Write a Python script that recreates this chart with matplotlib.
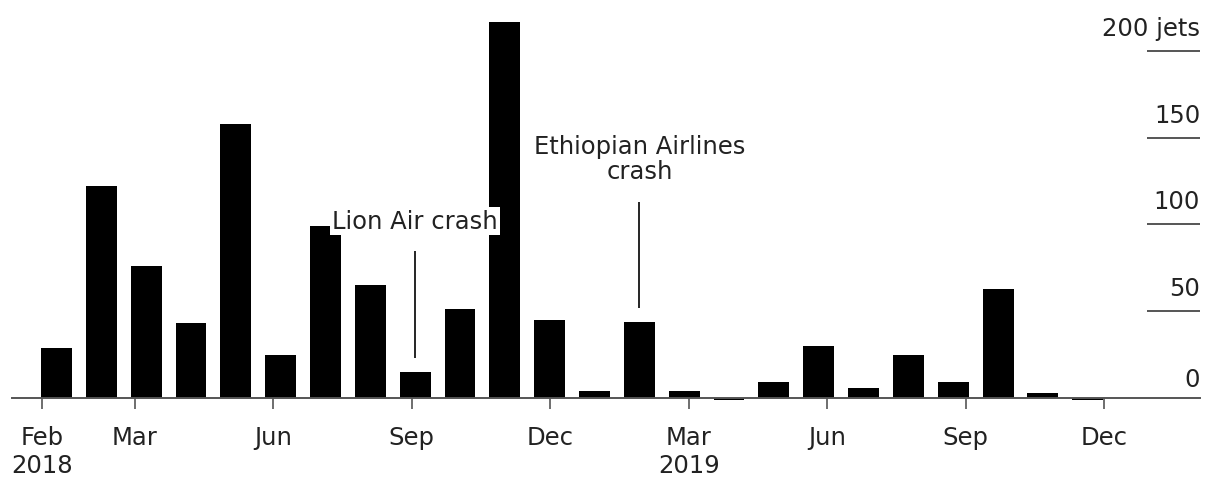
import matplotlib.pyplot as plt

# monthly jet counts, Feb 2018 onwards
jets = [29, 122, 76, 43, 158, 25, 99, 65, 15, 51, 217, 45,
        4, 44, 4, -1, 9, 30, 6, 25, 9, 63, 3, -1]

tick_months = [0, 2, 5, 8, 11, 14, 17, 20, 23]
tick_labels = ["Feb\n2018", "Mar", "Jun", "Sep", "Dec",
               "Mar\n2019", "Jun", "Sep", "Dec"]

y_ticks = [0, 50, 100, 150, 200]
y_labels = ["0", "50", "100", "150", "200 jets"]

# crash markers: bar index, label, height of label
events = [(8, "Lion Air crash", 102), (13, "Ethiopian Airlines\ncrash", 124)]

plt.rcParams['font.family'] = ['DejaVu Sans']
text_color = "#222222"
line_color = "#555555"

fig = plt.figure(figsize=(12.11, 4.81), dpi=100)
ax = fig.add_axes([0, 0, 1, 1])

x = list(range(len(jets)))
ax.bar(x, jets, width=0.69, color="black", zorder=2)

ax.set_xlim(-1.26, 25.75)
ax.set_ylim(-47.3, 230)

for s in ["top", "right", "left"]:
    ax.spines[s].set_visible(False)
ax.spines["bottom"].set_position(("data", 0))
ax.spines["bottom"].set_bounds(-0.99, 25.51)
ax.spines["bottom"].set_color(line_color)
ax.spines["bottom"].set_linewidth(1.4)
ax.spines["bottom"].set_zorder(3)

# date ticks drift slightly against the bar grid
tick_pos = [-0.32 + 1.03 * m for m in tick_months]
ax.set_xticks(tick_pos, tick_labels)
ax.tick_params(axis="x", direction="out", length=8, width=1.2,
               color=line_color, pad=11.5, labelsize=17.5, labelcolor=text_color)
for t in ax.get_xticklabels():
    t.set_linespacing(1.2)
ax.set_yticks([])

# short right-hand gridlines with labels above them
ytr = ax.get_yaxis_transform()
for v, lab in zip(y_ticks, y_labels):
    if v != 0:
        ax.hlines(v, 0.947, 0.991, transform=ytr, color=line_color, lw=1.4)
    off = 12 if v == 0 else 16
    ax.annotate(lab, xy=(0.991, v), xycoords=ytr, xytext=(0, off),
                textcoords="offset pixels", ha="right", va="baseline",
                fontsize=17.5, color=text_color)

for i, label, h in events:
    top = jets[i] + 8
    ax.vlines(i, top, h - 11 if "\n" in label else h - 17,
              color="black", lw=1.2, zorder=3)
    if "\n" in label:
        ax.text(i, h, label, ha="center", va="bottom", fontsize=17.5,
                color=text_color, linespacing=1.05, zorder=4)
    else:
        ax.text(i, h, label, ha="center", va="center", fontsize=17.5,
                color=text_color, zorder=4,
                bbox=dict(boxstyle="square,pad=0.08", fc="white", ec="none"))

fig.savefig("out.png", dpi=100)
